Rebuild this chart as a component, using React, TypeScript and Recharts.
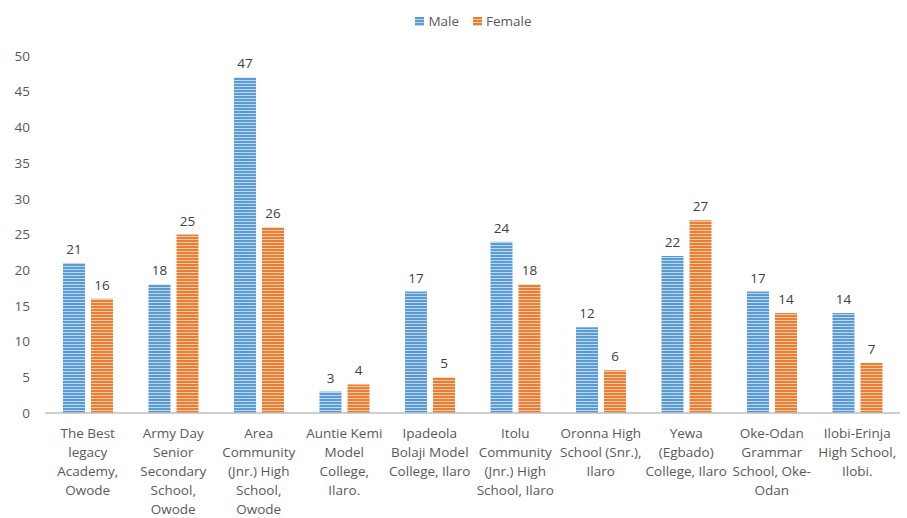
import { BarChart, Bar, XAxis, YAxis, LabelList } from "recharts";

const schools = [
  "The Best\nlegacy\nAcademy,\nOwode",
  "Army Day\nSenior\nSecondary\nSchool,\nOwode",
  "Area\nCommunity\n(Jnr.) High\nSchool,\nOwode",
  "Auntie Kemi\nModel\nCollege,\nIlaro.",
  "Ipadeola\nBolaji Model\nCollege, Ilaro",
  "Itolu\nCommunity\n(Jnr.) High\nSchool, Ilaro",
  "Oronna High\nSchool (Snr.),\nIlaro",
  "Yewa\n(Egbado)\nCollege, Ilaro",
  "Oke-Odan\nGrammar\nSchool, Oke-\nOdan",
  "Ilobi-Erinja\nHigh School,\nIlobi.",
];
const male = [21, 18, 47, 3, 17, 24, 12, 22, 17, 14];
const female = [16, 25, 26, 4, 5, 18, 6, 27, 14, 7];
const yTicks = [0, 5, 10, 15, 20, 25, 30, 35, 40, 45, 50];

const data = schools.map((name, i) => ({
  name,
  Male: male[i],
  Female: female[i],
}));

const BLUE = "#5B9BD5";
const ORANGE = "#ED7D31";
const FONT = "'Open Sans', 'Liberation Sans', sans-serif";

function SchoolTick({ x, y, payload }: any) {
  const lines = String(payload.value).split("\n");
  return (
    <text
      x={x}
      y={y}
      textAnchor="middle"
      fontSize={13.5}
      fill="#595959"
      fontFamily={FONT}
    >
      {lines.map((l, i) => (
        <tspan key={i} x={x} dy={i === 0 ? 17 : 19}>
          {l}
        </tspan>
      ))}
    </text>
  );
}

function LegendBox() {
  const items = [
    { label: "Male", fill: "url(#stripeMale)" },
    { label: "Female", fill: "url(#stripeFemale)" },
  ];
  return (
    <div
      style={{
        position: "absolute",
        top: 12,
        left: 0,
        width: 907,
        display: "flex",
        justifyContent: "center",
        gap: 14,
        fontFamily: FONT,
        fontSize: 13.5,
        color: "#595959",
        paddingLeft: 40,
        boxSizing: "border-box",
      }}
    >
      {items.map((it) => (
        <div key={it.label} style={{ display: "flex", alignItems: "center" }}>
          <svg width={9} height={9} style={{ marginRight: 4 }}>
            <rect width={9} height={9} fill={it.fill} />
          </svg>
          {it.label}
        </div>
      ))}
    </div>
  );
}

export default function App() {
  return (
    <div style={{ position: "relative", width: 907, height: 518, background: "#fff" }}>
      <style>{`body{margin:0}`}</style>
      <BarChart
        width={907}
        height={518}
        data={data}
        margin={{ top: 56, right: 7, left: 0, bottom: 75 }}
        barSize={22}
        barGap={6}
      >
        <defs>
          <pattern id="stripeMale" width={4} height={3} patternUnits="userSpaceOnUse">
            <rect width={4} height={3} fill={BLUE} />
            <rect y={2} width={4} height={1} fill="#BDD7EE" />
          </pattern>
          <pattern id="stripeFemale" width={4} height={3} patternUnits="userSpaceOnUse">
            <rect width={4} height={3} fill={ORANGE} />
            <rect y={2} width={4} height={1} fill="#F8CBAD" />
          </pattern>
        </defs>
        <XAxis
          dataKey="name"
          interval={0}
          tick={<SchoolTick />}
          tickLine={false}
          axisLine={{ stroke: "#BFBFBF", strokeWidth: 1.5 }}
        />
        <YAxis
          domain={[0, 50]}
          ticks={yTicks}
          width={45}
          axisLine={false}
          tickLine={false}
          tickSize={0}
          tickMargin={15}
          tick={{ fontSize: 13.5, fill: "#595959", fontFamily: FONT }}
        />
        <Bar dataKey="Male" fill="url(#stripeMale)" isAnimationActive={false}>
          <LabelList
            dataKey="Male"
            position="top"
            offset={9}
            style={{ fontSize: 13.5, fill: "#404040", fontFamily: FONT }}
          />
        </Bar>
        <Bar dataKey="Female" fill="url(#stripeFemale)" isAnimationActive={false}>
          <LabelList
            dataKey="Female"
            position="top"
            offset={9}
            style={{ fontSize: 13.5, fill: "#404040", fontFamily: FONT }}
          />
        </Bar>
      </BarChart>
      <LegendBox />
    </div>
  );
}
